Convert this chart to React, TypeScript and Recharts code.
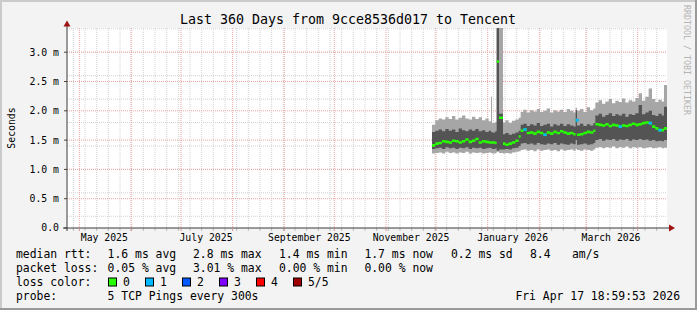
import { ComposedChart, Area, Scatter, XAxis, YAxis, CartesianGrid } from "recharts";

// x = day number counted from Jan 1 2025 (day 0)
const days = [
  331.6, 333.6, 335.6, 337.6, 339.6, 341.6, 343.6, 345.6, 347.6, 349.6, 351.6, 353.6, 355.6, 357.6, 359.6, 361.6, 363.6, 365.6, 367.0, 367.6, 369.6,
  370.4, 371.8,
  374.2, 375.6, 377.6, 379.6, 381.6, 383.6,
  384.8, 386.4, 388.4, 390.4, 392.4, 394.4, 396.4, 398.4, 400.4, 402.4, 404.4, 406.4, 408.4, 410.4, 412.4, 414.4, 416.4, 417.8, 418.6, 420.4, 422.4, 424.4, 426.4, 428.4,
  429.6, 431.6, 433.6, 435.6, 437.6, 439.6, 441.6, 443.6, 445.6, 447.6, 449.6, 451.6, 453.6, 455.6, 457.6, 459.6, 461.6, 463.6, 465.6, 467.4, 469.4, 470.8, 472.6,
];

// smoke: outer (min..max) and inner band, values in ms
const lightHigh = [
  1.76, 1.84, 1.87, 1.85, 1.89, 1.86, 1.91, 1.85, 1.88, 1.92, 1.87, 1.85, 1.9, 1.86, 1.89, 1.84, 1.87, 1.82, 2.24, 1.79, 1.81,
  3.6, 3.6,
  1.8, 1.84, 1.79, 1.83, 1.85, 1.88,
  1.98, 2.02, 1.97, 2.01, 1.99, 2.03, 1.98, 2.0, 2.04, 1.97, 2.01, 1.99, 2.02, 1.98, 2.03, 2.0, 1.97, 2.05, 2.0, 2.03, 1.98, 2.06, 2.01, 2.04,
  2.14, 2.18, 2.12, 2.16, 2.2, 2.13, 2.17, 2.15, 2.21, 2.14, 2.18, 2.16, 2.22, 2.3, 2.17, 2.24, 2.38, 2.2, 2.15, 2.19, 2.16, 2.44, 2.44,
];
const darkHigh = [
  1.64, 1.66, 1.68, 1.65, 1.69, 1.66, 1.68, 1.64, 1.7, 1.67, 1.65, 1.68, 1.66, 1.69, 1.65, 1.67, 1.64, 1.66, 1.64, 1.63, 1.65,
  3.6, 1.95,
  1.6, 1.62, 1.59, 1.61, 1.63, 1.66,
  1.76, 1.78, 1.74, 1.77, 1.75, 1.79, 1.74, 1.76, 1.78, 1.73, 1.77, 1.75, 1.78, 1.74, 1.77, 1.75, 1.73, 2.01, 1.75, 1.78, 1.74, 1.77, 1.75, 1.79,
  1.92, 1.95, 1.9, 1.93, 1.96, 1.91, 1.94, 1.92, 1.95, 1.9, 1.94, 1.93, 1.96, 2.1, 1.94, 1.97, 2.0, 1.93, 1.91, 1.95, 1.92, 2.07, 2.07,
];
const median = [
  1.41, 1.44, 1.45, 1.48, 1.47, 1.46, 1.49, 1.48, 1.46, 1.48, 1.51, 1.47, 1.49, 1.52, 1.46, 1.48, 1.47, 1.46, 1.46, 1.46, 1.45,
  2.84, 1.88,
  1.44, 1.42, 1.44, 1.46, 1.49, 1.56,
  1.66, 1.68, 1.62, 1.63, 1.61, 1.64, 1.62, 1.59, 1.63, 1.61, 1.64, 1.62, 1.65, 1.63, 1.61, 1.62, 1.6, 1.84, 1.59, 1.6, 1.62, 1.64, 1.63, 1.66,
  1.77, 1.76, 1.75, 1.77, 1.74, 1.76, 1.75, 1.73, 1.75, 1.74, 1.76, 1.78, 1.76, 1.77, 1.79, 1.8, 1.79, 1.73, 1.7, 1.67, 1.67, 1.7, 1.7,
];
const darkLow = [
  1.35, 1.36, 1.37, 1.35, 1.38, 1.36, 1.37, 1.35, 1.37, 1.36, 1.38, 1.35, 1.37, 1.36, 1.37, 1.35, 1.36, 1.37, 1.36, 1.35, 1.36,
  1.32, 1.34,
  1.34, 1.35, 1.34, 1.36, 1.37, 1.4,
  1.44, 1.45, 1.43, 1.44, 1.42, 1.45, 1.43, 1.42, 1.44, 1.43, 1.45, 1.42, 1.44, 1.43, 1.42, 1.44, 1.43, 1.5, 1.42, 1.43, 1.44, 1.42, 1.43, 1.45,
  1.5, 1.52, 1.49, 1.51, 1.5, 1.52, 1.49, 1.51, 1.5, 1.52, 1.49, 1.51, 1.5, 1.52, 1.5, 1.51, 1.49, 1.5, 1.48, 1.49, 1.48, 1.5, 1.5,
];
const lightLow = [
  1.27, 1.28, 1.29, 1.27, 1.3, 1.28, 1.29, 1.27, 1.29, 1.28, 1.3, 1.27, 1.29, 1.28, 1.29, 1.27, 1.28, 1.29, 1.28, 1.27, 1.28,
  1.3, 1.28,
  1.27, 1.28, 1.27, 1.29, 1.3, 1.31,
  1.33, 1.34, 1.32, 1.33, 1.31, 1.34, 1.32, 1.33, 1.34, 1.32, 1.33, 1.31, 1.34, 1.32, 1.33, 1.34, 1.32, 1.35, 1.33, 1.32, 1.34, 1.33, 1.32, 1.34,
  1.37, 1.38, 1.36, 1.38, 1.37, 1.39, 1.36, 1.38, 1.37, 1.39, 1.36, 1.38, 1.37, 1.38, 1.36, 1.37, 1.38, 1.36, 1.37, 1.38, 1.36, 1.37, 1.37,
];
// lost pings out of 5 per sample
const loss = [
  0, 0, 0, 0, 0, 0, 0, 0, 0, 0, 0, 0, 0, 0, 0, 0, 0, 0, 0, 0, 0,
  0, 0,
  0, 0, 0, 0, 0, 0,
  0, 1, 0, 0, 0, 0, 0, 1, 0, 0, 0, 0, 0, 0, 0, 0, 0, 1, 0, 0, 0, 0, 0, 0,
  0, 0, 0, 0, 0, 0, 0, 1, 0, 0, 0, 0, 0, 0, 0, 0, 1, 0, 0, 1, 0, 0, 0,
];

const monthStarts = [120, 151, 181, 212, 243, 273, 304, 334, 365, 396, 424, 455];
const monthLabelDays = [135, 196, 258, 319, 380, 439];
const monthLabels = ["May 2025", "July 2025", "September 2025", "November 2025", "January 2026", "March 2026"];
const yTicks = [0, 0.5, 1, 1.5, 2, 2.5, 3];

const lossColors = ["#26ff00", "#00b8ff", "#0059ff", "#7e00ff", "#ff0000", "#a10000"];
const lossLabels = ["0", "1", "2", "3", "4", "5/5"];

const X_MIN = 112.6;
const X_MAX = 472.6;
const Y_MAX = 3.413;
const MED_HALF = 0.022; // half thickness of the median bar, ms

const MONO = "'DejaVu Sans Mono', monospace";

const chartData = days.map((d, i) => ({
  day: d,
  light: [lightLow[i], lightHigh[i]],
  dark: [darkLow[i], darkHigh[i]],
  med: [median[i] - MED_HALF, median[i] + MED_HALF],
  median: median[i],
  loss: loss[i],
}));
const lossData = chartData.filter((r) => r.loss === 1);

// grid positions
const weekLines: number[] = [];
for (let d = 116.4; d < X_MAX; d += 7) weekLines.push(d);
const minorY: number[] = [];
for (let v = 0.1; v < Y_MAX; v += 0.1) minorY.push(Math.round(v * 10) / 10);

const LossMark = (props: any) => (
  <rect x={props.cx} y={props.cy - 1.3} width={3.3} height={2.6} fill={lossColors[1]} />
);

const legendRows = [
  { y: 258, parts: [[16, "median rtt:"], [107.6, "1.6 ms avg"], [193, "2.8 ms max"], [279, "1.4 ms min"], [364.4, "1.7 ms now"], [451, "0.2 ms sd"], [530, "8.4"], [572, "am/s"]] },
  { y: 272, parts: [[16, "packet loss:"], [107.6, "0.05 % avg"], [193, "3.01 % max"], [279, "0.00 % min"], [364.4, "0.00 % now"]] },
  { y: 300, parts: [[16, "probe:"], [107.6, "5 TCP Pings every 300s"]] },
];

const blank = () => "";

export default function App() {
  return (
    <div style={{ position: "absolute", left: 0, top: 0, width: 697, height: 310, background: "#f3f3f3" }}>
      <div style={{ position: "absolute", left: 67, top: 28, width: 600, height: 200, background: "#ffffff" }} />
      <div style={{ position: "absolute", left: 0, top: 0 }}>
        <ComposedChart width={697} height={310} data={chartData} margin={{ top: 28, right: 30, bottom: 52, left: 7 }}>
          <CartesianGrid horizontalValues={minorY} verticalValues={weekLines} stroke="#d2d2d2" strokeDasharray="1 1" />
          <CartesianGrid
            horizontalValues={yTicks.filter((v) => v > 0)}
            verticalValues={monthStarts}
            stroke="#eea3a3"
            strokeDasharray="1 1"
          />
          {/* main time axis: only the weekly tick marks */}
          <XAxis
            dataKey="day"
            type="number"
            domain={[X_MIN, X_MAX]}
            ticks={weekLines}
            tickFormatter={blank}
            axisLine={false}
            tickLine={{ stroke: "#bbbbbb" }}
            tickSize={3}
            height={1}
          />
          <XAxis
            xAxisId="amo"
            type="number"
            dataKey="day"
            domain={[X_MIN, X_MAX]}
            ticks={monthStarts}
            tickFormatter={blank}
            axisLine={false}
            tickLine={{ stroke: "#e88a8a" }}
            tickSize={2}
            height={1}
          />
          <XAxis
            xAxisId="zlbl"
            dataKey="day"
            type="number"
            domain={[X_MIN, X_MAX]}
            ticks={monthLabelDays}
            tickFormatter={(v) => monthLabels[monthLabelDays.indexOf(v)] ?? ""}
            axisLine={false}
            tickLine={false}
            tickSize={0}
            tickMargin={4}
            height={28}
            tick={{ fontSize: 9.8, fontFamily: MONO, fill: "#000" }}
          />
          <YAxis
            type="number"
            domain={[0, Y_MAX]}
            allowDataOverflow
            ticks={yTicks}
            tickFormatter={(v) => (v === 0 ? "0.0" : v.toFixed(1) + " m")}
            axisLine={false}
            tickLine={{ stroke: "#444" }}
            tickSize={3}
            tickMargin={5}
            width={60}
            tick={{ fontSize: 9.8, fontFamily: MONO, fill: "#000" }}
          />
          <Area dataKey="light" type="stepAfter" fill="#a6a6a6" fillOpacity={1} stroke="none" isAnimationActive={false} />
          <Area dataKey="dark" type="stepAfter" fill="#545454" fillOpacity={1} stroke="none" isAnimationActive={false} />
          <Area dataKey="med" type="stepAfter" fill={lossColors[0]} fillOpacity={1} stroke="none" isAnimationActive={false} />
          <Scatter data={lossData} dataKey="median" shape={LossMark} isAnimationActive={false} />
        </ComposedChart>
      </div>
      <svg width={697} height={310} style={{ position: "absolute", left: 0, top: 0, pointerEvents: "none" }}>
        {/* frame shading */}
        <rect x={0} y={0} width={697} height={2} fill="#cbcbcb" />
        <rect x={0} y={0} width={2} height={310} fill="#cbcbcb" />
        <rect x={0} y={308} width={697} height={2} fill="#999999" />
        <rect x={695} y={0} width={2} height={310} fill="#999999" />

        <text x={348} y={24} textAnchor="middle" fontFamily={MONO} fontSize={13.3} fill="#000">
          Last 360 Days from 9cce8536d017 to Tencent
        </text>
        <text x={11} y={128} textAnchor="middle" dominantBaseline="central" fontFamily={MONO} fontSize={9.8} fill="#000" transform="rotate(-90 11 128)">
          Seconds
        </text>
        <text x={687} y={60} textAnchor="middle" dominantBaseline="central" fontFamily={MONO} fontSize={8.3} fill="#b4b4b4" transform="rotate(90 687 60)">
          RRDTOOL / TOBI OETIKER
        </text>

        {/* axes */}
        <line x1={67} y1={231} x2={67} y2={25} stroke="#3a3a3a" strokeWidth={1} />
        <line x1={63} y1={228} x2={670} y2={228} stroke="#3a3a3a" strokeWidth={1} />
        <polygon points="63.5,26.5 70.5,26.5 67,20.5" fill="#a01212" />
        <polygon points="669,224.5 669,231.5 675,228" fill="#a01212" />

        {legendRows.map((row) =>
          row.parts.map(([x, t]) => (
            <text key={row.y + "-" + x} x={x as number} y={row.y} fontFamily={MONO} fontSize={11.4} fill="#000">
              {t}
            </text>
          ))
        )}
        <text x={16} y={286} fontFamily={MONO} fontSize={11.4} fill="#000">loss color:</text>
        {lossColors.map((c, i) => (
          <g key={c}>
            <rect x={108.5 + i * 37} y={278} width={8} height={8} fill={c} stroke="#000" strokeWidth={1} />
            <text x={123 + i * 37} y={286} fontFamily={MONO} fontSize={11.4} fill="#000">{lossLabels[i]}</text>
          </g>
        ))}
        <text x={680} y={300} textAnchor="end" fontFamily={MONO} fontSize={11.4} fill="#000">
          Fri Apr 17 18:59:53 2026
        </text>
      </svg>
    </div>
  );
}
